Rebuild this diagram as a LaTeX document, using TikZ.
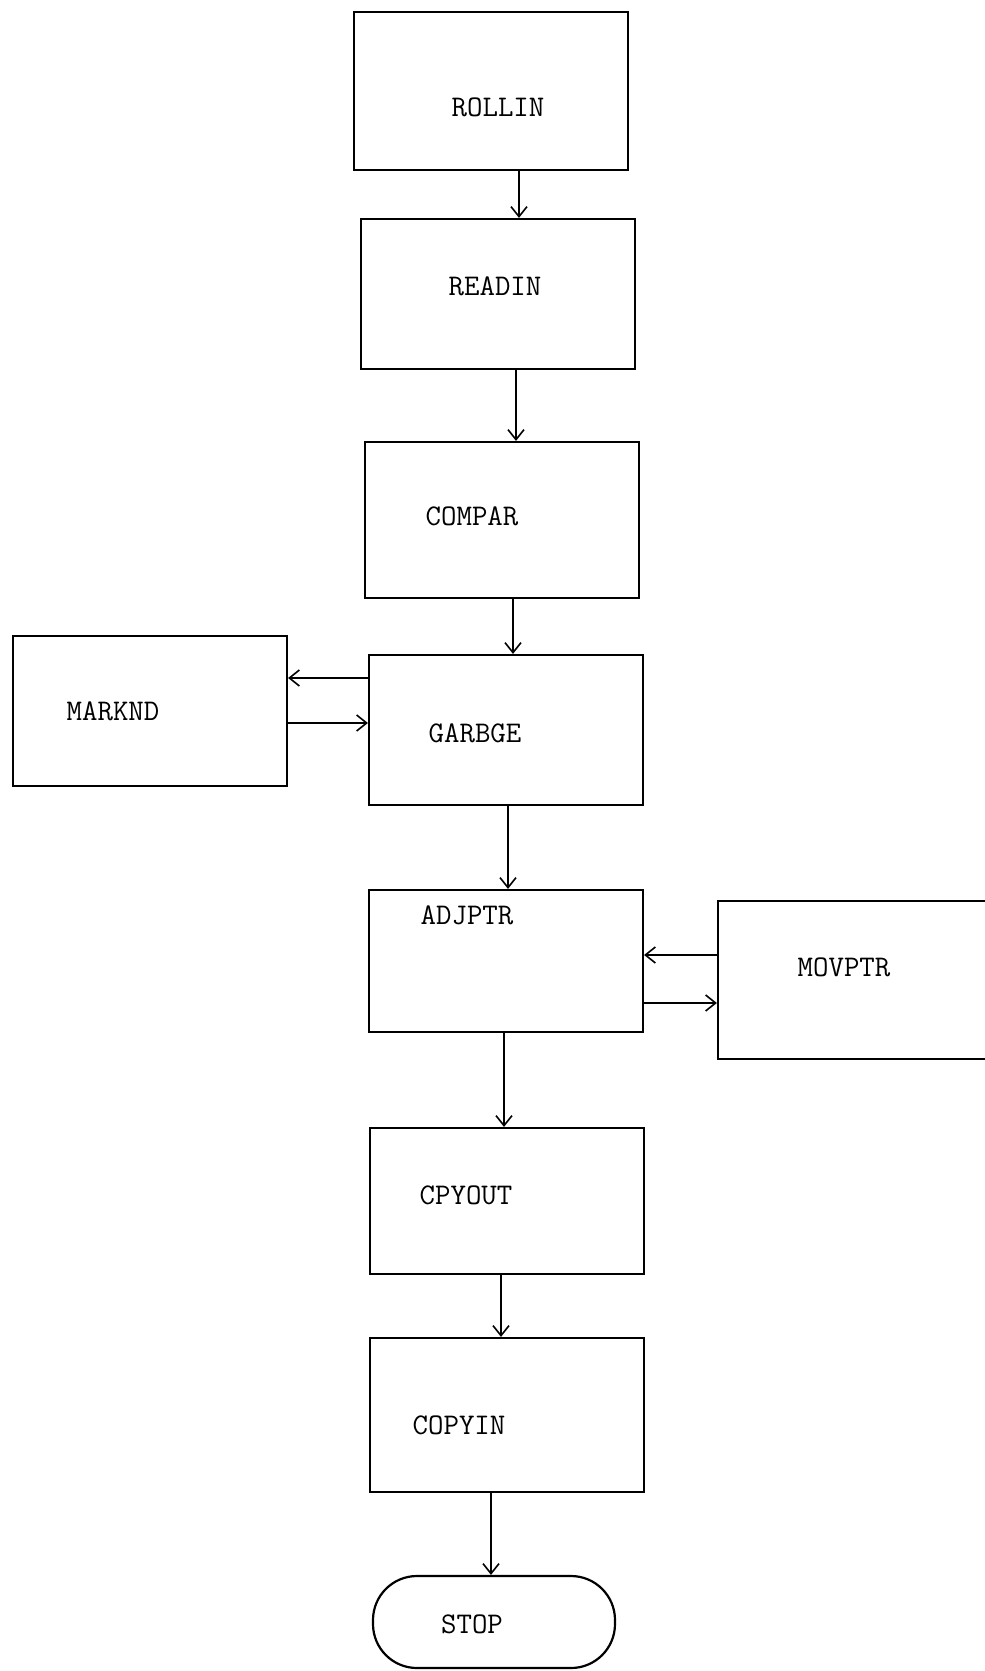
\documentclass[tikz,border=0pt]{standalone}
\usepackage{tikz}
\usetikzlibrary{arrows.meta, positioning}
\tikzset{
  box/.style={draw, line width=1.1pt, minimum width=137pt, minimum height=75pt, inner sep=0pt},
  endbox/.style={draw, line width=1.1pt, rounded corners=22pt, minimum width=121pt, minimum height=46pt, inner sep=0pt},
  tag/.style={font=\fontsize{15}{18}\selectfont\ttfamily, inner sep=0pt},
  flow/.style={line width=0.8pt, -{Straight Barb[length=5pt,width=8pt]}}
}
\begin{document}
\begin{tikzpicture}[x=0.5pt,y=-0.5pt]
  \useasboundingbox (0,0) rectangle (985,1671);
  % Main chain
  \node[box, minimum height=79pt] (rollin) at (491,91) {};
  \node[box] (readin) at (498,294) {};
  \node[box, minimum height=78pt] (compar) at (502,520) {};
  \node[box] (garbge) at (506,730) {};
  \node[box, minimum height=71pt] (adjptr) at (506,961) {};
  \node[box, minimum height=73pt] (cpyout) at (507,1201) {};
  \node[box, minimum height=77pt] (copyin) at (507,1415) {};
  \node[endbox] (stop) at (494,1622) {};
  % Side boxes
  \node[box] (marknd) at (150,711) {};
  \node[box, minimum width=140pt, minimum height=79pt] (movptr) at (858,980) {};
  % Names
  \node[tag] (rollin-t) at (498,107) {ROLLIN};
  \node[tag] (readin-t) at (495,286) {READIN};
  \node[tag] (compar-t) at (472,516) {COMPAR};
  \node[tag] (garbge-t) at (475,733) {GARBGE};
  \node[tag] (adjptr-t) at (467,915) {ADJPTR};
  \node[tag] (cpyout-t) at (466,1195) {CPYOUT};
  \node[tag] (copyin-t) at (459,1425) {COPYIN};
  \node[tag] (stop-t) at (472,1624) {STOP};
  \node[tag] (marknd-t) at (113,711) {MARKND};
  \node[tag] (movptr-t) at (844,967) {MOVPTR};
  % Flow downwards
  \foreach \a/\b/\x in {rollin/readin/519, readin/compar/516, compar/garbge/513,
      garbge/adjptr/508, adjptr/cpyout/504, cpyout/copyin/501, copyin/stop/491}{
    \draw[flow] (\a.south -| \x,0) -- (\b.north -| \x,0);
  }
  % Calls and returns
  \draw[flow] (garbge.west |- 0,678) -- (marknd.east |- 0,678);
  \draw[flow] (marknd.east |- 0,723) -- (garbge.west |- 0,723);
  \draw[flow] (movptr.west |- 0,955) -- (adjptr.east |- 0,955);
  \draw[flow] (adjptr.east |- 0,1003) -- (movptr.west |- 0,1003);
\end{tikzpicture}
\end{document}
